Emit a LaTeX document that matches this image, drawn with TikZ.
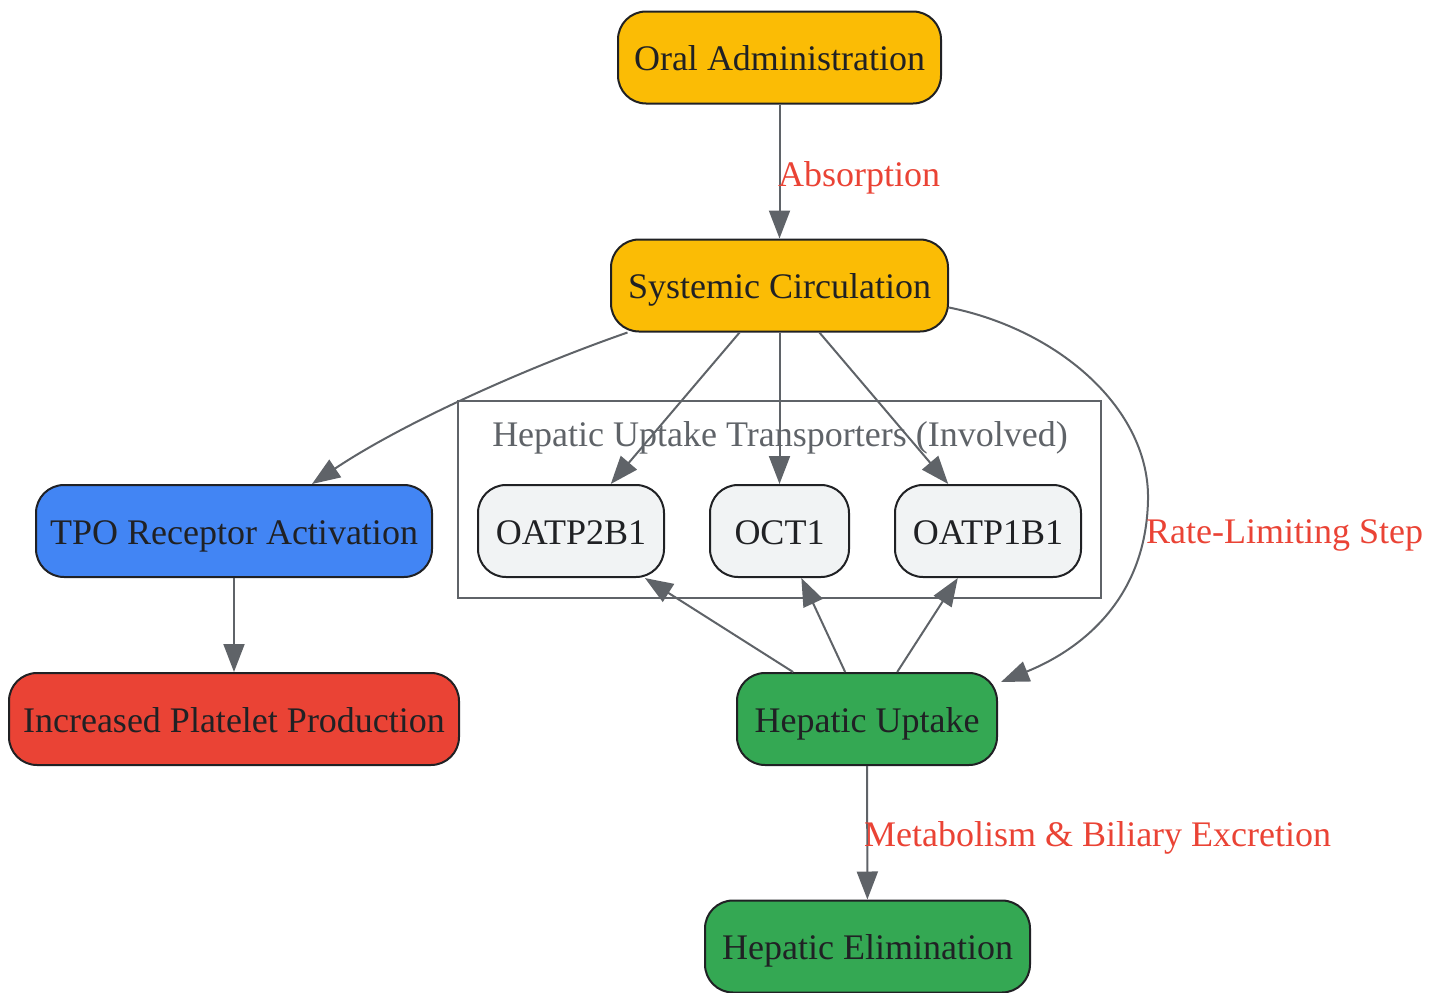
\documentclass[tikz,border=0pt]{standalone}
\usepackage{fontspec}
\setmainfont{Liberation Serif}
\usetikzlibrary{arrows.meta}
\definecolor{gyellow}{HTML}{FBBC05}
\definecolor{gblue}{HTML}{4285F4}
\definecolor{gred}{HTML}{EA4335}
\definecolor{ggreen}{HTML}{34A853}
\definecolor{glight}{HTML}{F1F3F4}
\definecolor{gedge}{HTML}{5F6368}
\definecolor{gtext}{HTML}{202124}
\tikzset{
  box/.style={draw=gtext, line width=2pt, rounded corners=28pt, minimum height=92pt, inner sep=0pt, text=gtext, font=\fontsize{36}{42}\selectfont, text height=28pt, text depth=2pt},
  conn/.style={draw=gedge, line width=2pt, -{Triangle[length=28pt,width=21pt]}},
  elabel/.style={text=gred, font=\fontsize{36}{42}\selectfont, inner sep=0pt, anchor=west, text height=25pt, text depth=5pt},
}
\begin{document}
\begin{tikzpicture}[x=1pt,y=-1pt]
\useasboundingbox (0,0) rectangle (1441,993);
% cluster
\node[draw=gedge, line width=2pt, minimum width=643pt, minimum height=197pt, inner sep=0pt] (cl) at (779.5,499.5) {};
\node[text=gedge, font=\fontsize{36}{42}\selectfont, inner sep=0pt, text height=25pt, text depth=5pt] (cllab) at (780,436) {Hepatic Uptake Transporters (Involved)};
% nodes
\node[box, fill=gyellow, minimum width=323pt] (oral) at (779.5,57.5) {Oral Administration};
\node[box, fill=gyellow, minimum width=337pt] (sys) at (779.5,285.5) {Systemic Circulation};
\node[box, fill=gblue, minimum width=396pt] (tpo) at (234,531) {TPO Receptor Activation};
\node[box, fill=gred, minimum width=450pt] (plt) at (234,719) {Increased Platelet Production};
\node[box, fill=glight, minimum width=186pt] (o2b1) at (571,531) {OATP2B1};
\node[box, fill=glight, minimum width=139pt] (oct1) at (779.5,531) {OCT1};
\node[box, fill=glight, minimum width=186pt] (o1b1) at (988,531) {OATP1B1};
\node[box, fill=ggreen, minimum width=260pt] (hu) at (867,719) {Hepatic Uptake};
\node[box, fill=ggreen, minimum width=325pt] (he) at (867.5,946.5) {Hepatic Elimination};
% edges
\draw[conn] (oral) -- (sys);
\node[elabel] (labsorp) at (778,176) {Absorption};
\draw[conn] ([xshift=-152pt]sys.south) .. controls (520,370) and (400,425) .. ([xshift=78pt]tpo.north);
\draw[conn] (sys) -- (o2b1);
\draw[conn] (sys.south) -- (oct1.north);
\draw[conn] (sys) -- (o1b1);
\draw[conn] ([yshift=-22pt]sys.east) .. controls (1060,330) and (1150,410) .. (1148,500) .. controls (1146,600) and (1080,650) .. ([shift={(3pt,-10pt)}]hu.north east);
\node[elabel] (lrate) at (1146,533) {Rate-Limiting Step};
\draw[conn] (hu) -- (o2b1);
\draw[conn] (hu) -- (oct1);
\draw[conn] (hu) -- (o1b1);
\draw[conn] (tpo) -- (plt);
\draw[conn] (hu) -- (he);
\node[elabel] (lmet) at (864,836) {Metabolism \& Biliary Excretion};
\end{tikzpicture}
\end{document}
